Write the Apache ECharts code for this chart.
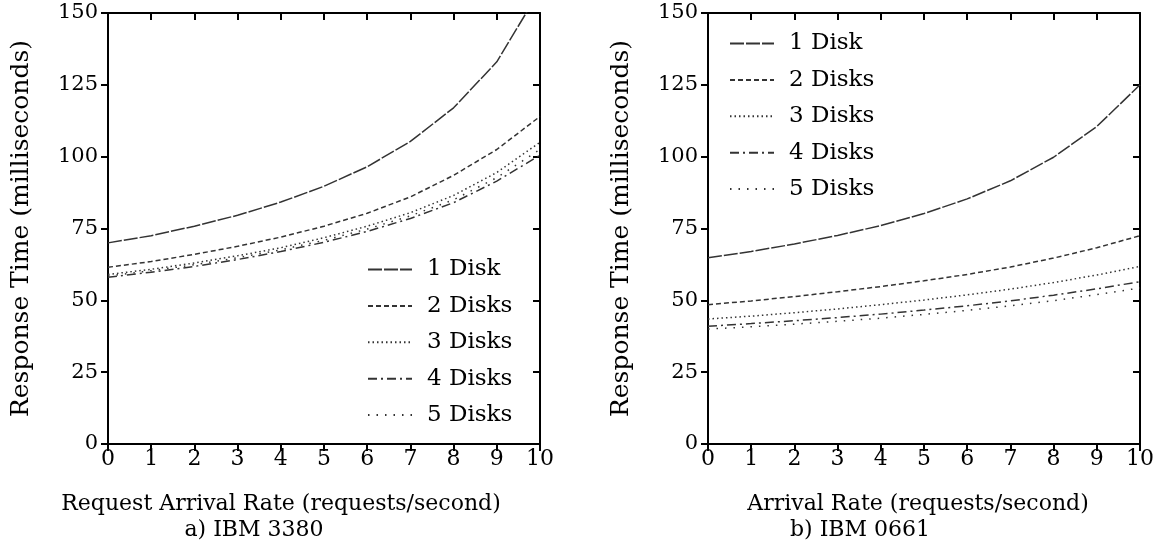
<!DOCTYPE html>
<html>
<head>
<meta charset="utf-8">
<script src="https://cdn.jsdelivr.net/npm/echarts@6/dist/echarts.min.js"></script>
<style>html,body{margin:0;padding:0;background:#fff}#c{width:1163px;height:554px}</style>
</head>
<body>
<div id="c"></div>
<script>
const xValues = [0,1,2,3,4,5,6,7,8,9,10];
const seriesNames = ['1 Disk','2 Disks','3 Disks','4 Disks','5 Disks'];
// a) IBM 3380
const ibm3380_1 = [70, 72.5, 75.8, 79.6, 84.2, 89.7, 96.5, 105.3, 117, 133, 158];
const ibm3380_2 = [61.5, 63.5, 66, 68.8, 72, 75.8, 80.3, 86, 93.5, 102.5, 114];
const ibm3380_3 = [59, 60.8, 63, 65.5, 68.3, 71.8, 75.8, 80.5, 86.5, 94.5, 105];
const ibm3380_4 = [58, 59.8, 61.8, 64.2, 67, 70.2, 74, 78.5, 84, 91.5, 100.5];
const ibm3380_5 = [58.5, 60.3, 62.4, 64.8, 67.6, 70.9, 74.8, 79.4, 85, 92.7, 102.5];
// b) IBM 0661
const ibm0661_1 = [64.8, 67, 69.6, 72.6, 76, 80.2, 85.3, 91.6, 99.8, 110.5, 125];
const ibm0661_2 = [48.5, 49.8, 51.3, 53, 54.8, 56.8, 59, 61.6, 64.7, 68.3, 72.5];
const ibm0661_3 = [43.5, 44.5, 45.7, 47, 48.5, 50.1, 51.9, 53.9, 56.2, 58.8, 61.8];
const ibm0661_4 = [41, 41.9, 42.9, 44, 45.2, 46.6, 48.1, 49.8, 51.8, 54, 56.5];
const ibm0661_5 = [40, 40.8, 41.7, 42.7, 43.8, 45.1, 46.5, 48.1, 49.9, 52, 54.3];

const xTitleA = 'Request Arrival Rate (requests/second)';
const xTitleB = 'Arrival Rate (requests/second)';
const captionA = 'a) IBM 3380';
const captionB = 'b) IBM 0661';
const yTitle = 'Response Time (milliseconds)';

const FONT = 'DejaVu Serif';
const INK = '#000';
const LINE = '#333';
const dashes = [[14,2],[5,3],[1.5,3],[9,4,2,4],[1.5,7]];

const chart = echarts.init(document.getElementById('c'));

function pairs(arr){ return arr.map((v,i)=>[xValues[i], v]); }

function xAxisMain(gi){
  return {type:'value', gridIndex:gi, min:0, max:10, interval:1,
    axisLine:{show:true, onZero:false, lineStyle:{color:INK, width:2}},
    axisTick:{show:true, inside:false, length:7, lineStyle:{color:INK, width:2}},
    axisLabel:{color:INK, fontFamily:FONT, fontSize:22, margin:4},
    splitLine:{show:false}};
}
function xAxisTop(gi){
  return {type:'value', gridIndex:gi, position:'top', min:0, max:10, interval:1,
    axisLine:{show:true, onZero:false, lineStyle:{color:INK, width:2}},
    axisTick:{show:true, inside:true, length:7, lineStyle:{color:INK, width:2}},
    axisLabel:{show:false}, splitLine:{show:false}};
}
function yAxisMain(gi){
  return {type:'value', gridIndex:gi, min:0, max:150, interval:25,
    name: yTitle, nameLocation:'middle', nameGap:74,
    nameTextStyle:{color:INK, fontFamily:FONT, fontSize:25},
    axisLine:{show:true, onZero:false, lineStyle:{color:INK, width:2}},
    axisTick:{show:true, inside:false, length:7, lineStyle:{color:INK, width:2}},
    axisLabel:{color:INK, fontFamily:FONT, fontSize:21, margin:10},
    splitLine:{show:false}};
}
function yAxisRight(gi){
  return {type:'value', gridIndex:gi, position:'right', min:0, max:150, interval:25,
    axisLine:{show:true, onZero:false, lineStyle:{color:INK, width:2}},
    axisTick:{show:true, inside:true, length:7, lineStyle:{color:INK, width:2}},
    axisLabel:{show:false}, splitLine:{show:false}};
}

const dataA = [ibm3380_1, ibm3380_2, ibm3380_3, ibm3380_4, ibm3380_5];
const dataB = [ibm0661_1, ibm0661_2, ibm0661_3, ibm0661_4, ibm0661_5];
const series = [];
[dataA, dataB].forEach((set, gi) => {
  set.forEach((arr, k) => {
    series.push({
      type:'line', name: seriesNames[k], xAxisIndex: gi*2, yAxisIndex: gi*2,
      data: pairs(arr), symbol:'none', smooth:false, clip:true,
      lineStyle:{color:LINE, width:1.5, type:dashes[k]},
      itemStyle:{color:LINE},
      emphasis:{disabled:true}, silent:true, animation:false
    });
  });
});

function legend(left, top){
  return {data: seriesNames, orient:'vertical', left:left, top:top,
    itemWidth:44, itemHeight:20, itemGap:13.4, selectedMode:false,
    itemStyle:{opacity:0},
    textStyle:{color:INK, fontFamily:FONT, fontSize:23, padding:[0,0,0,10]}};
}

function text(x, y, s){
  return {type:'text', x:x, y:y, style:{text:s, fill:INK, fontFamily:FONT, fontSize:22, textAlign:'center', textVerticalAlign:'middle'}};
}

chart.setOption({
  animation:false,
  textStyle:{fontFamily:FONT},
  grid:[
    {left:108, right:623, top:13, bottom:110},
    {left:708, right:23, top:13, bottom:110}
  ],
  xAxis:[xAxisMain(0), xAxisTop(0), xAxisMain(1), xAxisTop(1)],
  yAxis:[yAxisMain(0), yAxisRight(0), yAxisMain(1), yAxisRight(1)],
  legend:[legend(362, 253), legend(724, 27)],
  series: series,
  graphic:[
    text(281, 504, xTitleA),
    text(254, 530, captionA),
    text(918, 504, xTitleB),
    text(860, 530, captionB)
  ]
});
</script>
</body>
</html>
